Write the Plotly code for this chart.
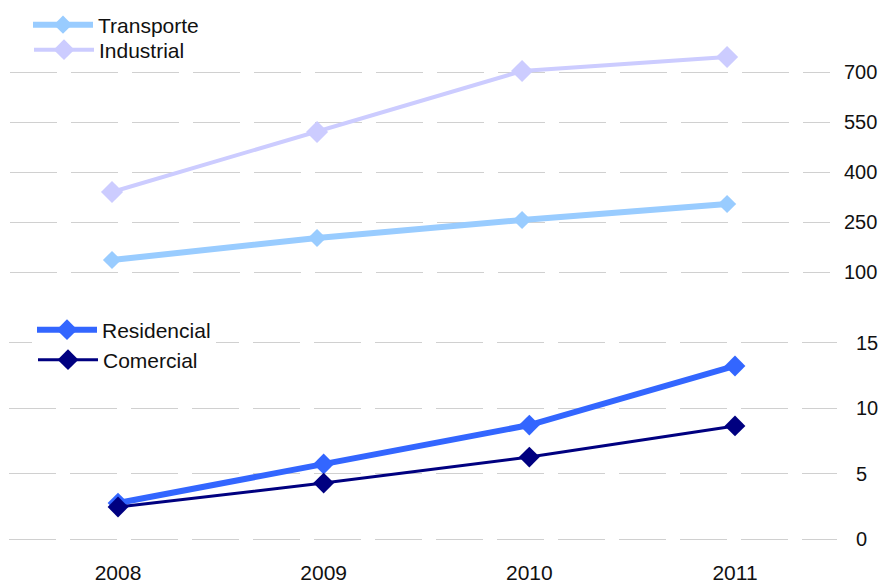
import plotly.graph_objects as go

years = ["2008", "2009", "2010", "2011"]
transporte = [136, 202, 256, 304]
industrial = [340, 520, 703, 745]
residencial = [2.75, 5.74, 8.72, 13.24]
comercial = [2.45, 4.28, 6.27, 8.65]
top_ticks = [100, 250, 400, 550, 700]
bottom_ticks = [0, 5, 10, 15]

FONT = "Liberation Sans, Arial, sans-serif"
FS = 21
W, H = 879, 580   # page body has an 8px margin; window is 887x588
OFF = 8
xi = list(range(len(years)))


def px(x):
    return (x - OFF) / W


def py(y):
    return 1 - (y - OFF) / H


fig = go.Figure()
fig.add_trace(go.Scatter(x=xi, y=transporte, name="Transporte", mode="lines+markers",
                         line=dict(color="#99CCFF", width=6),
                         marker=dict(symbol="diamond", size=14, color="#99CCFF"),
                         xaxis="x", yaxis="y", legend="legend"))
fig.add_trace(go.Scatter(x=xi, y=industrial, name="Industrial", mode="lines+markers",
                         line=dict(color="#CCCCFF", width=4),
                         marker=dict(symbol="diamond", size=17, color="#CCCCFF"),
                         xaxis="x", yaxis="y", legend="legend2"))
fig.add_trace(go.Scatter(x=xi, y=residencial, name="Residencial", mode="lines+markers",
                         line=dict(color="#3366FF", width=6),
                         marker=dict(symbol="diamond", size=16, color="#3366FF"),
                         xaxis="x2", yaxis="y2", legend="legend3"))
fig.add_trace(go.Scatter(x=xi, y=comercial, name="Comercial", mode="lines+markers",
                         line=dict(color="#000080", width=3),
                         marker=dict(symbol="diamond", size=16, color="#000080"),
                         xaxis="x2", yaxis="y2", legend="legend4"))

grid = dict(showgrid=True, gridcolor="#D0D0D0", gridwidth=1, griddash="47px,14px")
tickfont = dict(family=FONT, size=20, color="#111111")


def leg(x, y, bg="rgba(0,0,0,0)"):
    return dict(x=px(x), y=py(y), xanchor="left", yanchor="middle",
                bgcolor=bg, borderwidth=0, tracegroupgap=0,
                font=dict(family=FONT, size=FS, color="#111111"), itemwidth=60)


fig.update_layout(
    width=W, height=H,
    margin=dict(l=0, r=0, t=0, b=0, autoexpand=False),
    paper_bgcolor="white", plot_bgcolor="rgba(0,0,0,0)",
    font=dict(family=FONT, size=FS, color="#111111"),
    showlegend=True,
    xaxis=dict(domain=[px(10), px(830)], anchor="y", range=[-0.4976, 3.502],
               showticklabels=False, showgrid=False, zeroline=False, showline=False,
               automargin=False),
    yaxis=dict(domain=[py(290), py(40)], anchor="x", side="right",
               range=[46, 796], tickvals=top_ticks, ticklabelstandoff=13,
               tickfont=tickfont,
               zeroline=False, showline=False, automargin=False, **grid),
    xaxis2=dict(domain=[px(9), px(837)], anchor="y2", range=[-0.530, 3.496],
                tickvals=xi, ticktext=years,
                showgrid=False, zeroline=False, showline=False, ticklabelstandoff=-2,
                automargin=False),
    yaxis2=dict(domain=[py(560), py(300)], anchor="x2", side="right",
                range=[-1.607, 18.29], tickvals=bottom_ticks, ticklabelstandoff=18,
                tickfont=tickfont,
                zeroline=False, showline=False, automargin=False, **grid),
    legend=leg(20 + OFF, 25),
    legend2=leg(21 + OFF, 50),
    legend3=leg(24 + OFF, 330, "white"),
    legend4=leg(25 + OFF, 360),
)

fig.write_html("out.html")
